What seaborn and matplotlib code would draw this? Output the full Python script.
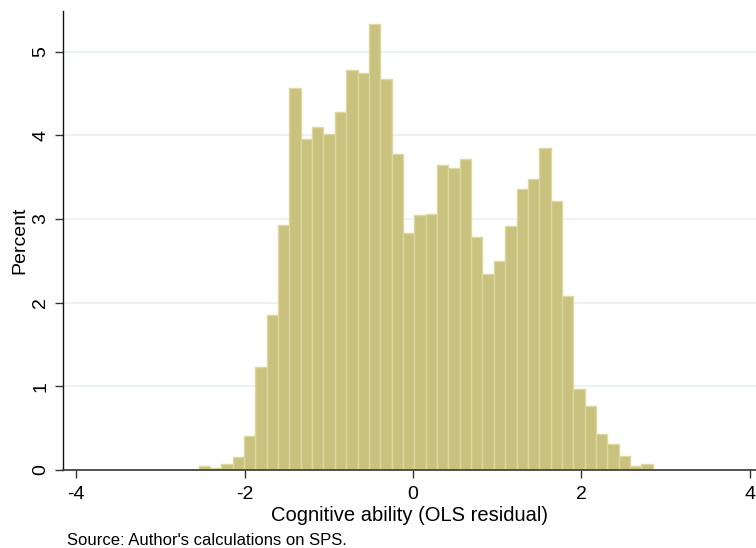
import numpy as np
import pandas as pd
import matplotlib
matplotlib.use("Agg")
import matplotlib.pyplot as plt
import seaborn as sns

# bin heights (percent), left to right
pct = [0.044, 0.028, 0.068, 0.16, 0.41, 1.23, 1.855, 2.93, 4.56, 3.96,
       4.10, 4.02, 4.28, 4.785, 4.74, 5.33, 4.67, 3.78, 2.835, 3.05,
       3.06, 3.64, 3.61, 3.71, 2.78, 2.345, 2.50, 2.91, 3.36, 3.48,
       3.845, 3.22, 2.08, 0.97, 0.76, 0.43, 0.31, 0.163, 0.052, 0.068]
bin_start = -2.547
bin_width = 0.1349

xticks = [-4, -2, 0, 2, 4]
yticks = [0, 1, 2, 3, 4, 5]

edges = bin_start + bin_width * np.arange(len(pct) + 1)
centers = (edges[:-1] + edges[1:]) / 2
df = pd.DataFrame({'resid': centers, 'pct': pct})

sns.set_style("white")
plt.rcParams['font.family'] = ['Liberation Sans', 'DejaVu Sans']
plt.rcParams['text.color'] = 'black'
plt.rcParams['axes.labelcolor'] = 'black'
plt.rcParams['xtick.color'] = 'black'
plt.rcParams['ytick.color'] = 'black'

fig = plt.figure(figsize=(7.56, 5.48), dpi=100)
ax = fig.add_axes([0.0837, 0.1423, 0.9163, 0.8376])

# light stata-style gridlines
for y in yticks[1:]:
    ax.axhline(y, color='#eaf1f3', lw=1.2, zorder=0)

sns.histplot(data=df, x='resid', weights='pct', bins=edges.tolist(), ax=ax,
             color='#c9c27e', edgecolor='#dcd79f', linewidth=1,
             alpha=1, zorder=2)

ax.set_xlim(-4.153, 4.074)
ax.set_ylim(0, 5.484)
ax.set_xticks(xticks)
ax.set_yticks(yticks)
ax.set_xticklabels([str(t) for t in xticks], fontsize=14)
ax.set_yticklabels([str(t) for t in yticks], fontsize=14, rotation=90, va='center')
ax.tick_params(axis='x', direction='out', length=5.5, width=1, color='#333333',
               bottom=True, pad=6, labelcolor='black')
ax.tick_params(axis='y', direction='out', length=5.5, width=1, color='#333333',
               left=True, pad=4.5, labelcolor='black')
ax.set_xlabel('Cognitive ability (OLS residual)', fontsize=14.5, labelpad=2, color='black')
ax.set_ylabel('Percent', fontsize=14, labelpad=3, color='black')
ax.grid(False)

for side in ['top', 'right']:
    ax.spines[side].set_visible(False)
ax.spines['left'].set_color('#111111')
ax.spines['bottom'].set_color('#444444')
ax.spines['left'].set_linewidth(1)
ax.spines['bottom'].set_linewidth(1.3)

fig.text(0.0886, 0.006, "Source: Author's calculations on SPS.", fontsize=12,
         va='baseline', color='black')

fig.savefig('out.png', dpi=100)
